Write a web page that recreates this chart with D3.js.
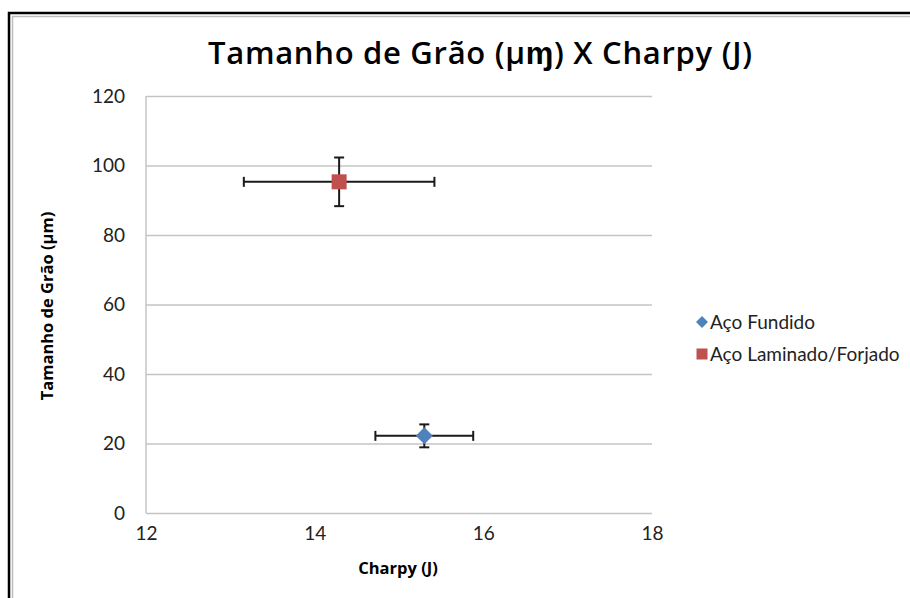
<!DOCTYPE html>
<html>
<head>
<meta charset="utf-8">
<script src="https://cdn.jsdelivr.net/npm/d3@7"></script>
<style>
  html, body { margin: 0; padding: 0; background: #fff; }
  svg { display: block; }
</style>
</head>
<body>
<svg id="chart" width="910" height="598"></svg>
<script>
// Series: Charpy energy (J) vs grain size (µm), with error bars on both axes
const seriesNames = ["Aço Fundido", "Aço Laminado/Forjado"];
const seriesColors = ["#4F81BD", "#C0504D"];
const seriesShapes = ["diamond", "square"];
const charpyValues = [15.3, 14.29];
const charpyErrors = [0.58, 1.13];
const grainValues = [22.2, 95.3];
const grainErrors = [3.3, 7.0];
const xTicks = [12, 14, 16, 18];
const yTicks = [0, 20, 40, 60, 80, 100, 120];

const svg = d3.select("#chart");
const font = "Lato, 'Open Sans', sans-serif";

// Outer frame (double line)
svg.append("rect").attr("x", 9).attr("y", 13).attr("width", 1000).attr("height", 1000)
  .attr("fill", "none").attr("stroke", "#000").attr("stroke-width", 2.5);
svg.append("rect").attr("x", 12.5).attr("y", 16.5).attr("width", 1000).attr("height", 1000)
  .attr("fill", "none").attr("stroke", "#bdbdbd").attr("stroke-width", 1.5);

const x = d3.scaleLinear().domain([12, 18]).range([146, 652]);
const y = d3.scaleLinear().domain([0, 120]).range([513, 96]);

// Horizontal gridlines
svg.append("g").attr("transform", `translate(${x(12)},0)`)
  .call(d3.axisLeft(y).tickValues(yTicks).tickSize(-(x(18) - x(12))).tickFormat(""))
  .call(g => g.select(".domain").remove())
  .call(g => g.selectAll("line").attr("stroke", "#c4c4c4").attr("stroke-width", 1.5));

// Left axis line
svg.append("line").attr("x1", x(12)).attr("x2", x(12)).attr("y1", y(120)).attr("y2", y(0))
  .attr("stroke", "#c4c4c4").attr("stroke-width", 1.5);

// Y tick labels
svg.append("g").attr("transform", `translate(${x(12)},0)`)
  .call(d3.axisLeft(y).tickValues(yTicks).tickSize(0).tickPadding(21).tickFormat(d3.format("d")))
  .call(g => g.select(".domain").remove())
  .call(g => g.selectAll("text").attr("font-family", font).attr("font-size", 19).attr("fill", "#222"));

// X tick labels
svg.append("g").attr("transform", `translate(0,${y(0)})`)
  .call(d3.axisBottom(x).tickValues(xTicks).tickSize(0).tickPadding(14).tickFormat(d3.format("d")))
  .call(g => g.select(".domain").remove())
  .call(g => g.selectAll("text").attr("font-family", font).attr("font-size", 19).attr("fill", "#222"));

// Title
svg.append("text").attr("x", 480).attr("y", 64).attr("text-anchor", "middle")
  .attr("font-family", "'Open Sans', sans-serif").attr("font-weight", 600).attr("font-size", 31)
  .attr("textLength", 544).attr("lengthAdjust", "spacing")
  .attr("fill", "#000").text("Tamanho de Grão (µɱ) X Charpy (J)");

// Axis titles
svg.append("text").attr("x", 398).attr("y", 574).attr("text-anchor", "middle")
  .attr("font-family", "'Open Sans', sans-serif").attr("font-weight", "bold").attr("font-size", 16.5)
  .attr("fill", "#000").text("Charpy (J)");
svg.append("text").attr("transform", "translate(53,306) rotate(-90)").attr("text-anchor", "middle")
  .attr("font-family", "'Open Sans', sans-serif").attr("font-weight", "bold").attr("font-size", 16.5)
  .attr("fill", "#000").text("Tamanho de Grão (µm)");

const data = seriesNames.map((name, i) => ({
  name, color: seriesColors[i], shape: seriesShapes[i],
  cx: charpyValues[i], ex: charpyErrors[i], cy: grainValues[i], ey: grainErrors[i]
}));

// Error bars
const err = svg.append("g").attr("stroke", "#1a1a1a").attr("stroke-width", 2).attr("fill", "none");
data.forEach(d => {
  const capX = 5, capY = 5;
  err.append("line").attr("x1", x(d.cx - d.ex)).attr("x2", x(d.cx + d.ex)).attr("y1", y(d.cy)).attr("y2", y(d.cy));
  err.append("line").attr("x1", x(d.cx - d.ex)).attr("x2", x(d.cx - d.ex)).attr("y1", y(d.cy) - capY).attr("y2", y(d.cy) + capY);
  err.append("line").attr("x1", x(d.cx + d.ex)).attr("x2", x(d.cx + d.ex)).attr("y1", y(d.cy) - capY).attr("y2", y(d.cy) + capY);
  err.append("line").attr("x1", x(d.cx)).attr("x2", x(d.cx)).attr("y1", y(d.cy - d.ey)).attr("y2", y(d.cy + d.ey));
  err.append("line").attr("x1", x(d.cx) - capX).attr("x2", x(d.cx) + capX).attr("y1", y(d.cy - d.ey)).attr("y2", y(d.cy - d.ey));
  err.append("line").attr("x1", x(d.cx) - capX).attr("x2", x(d.cx) + capX).attr("y1", y(d.cy + d.ey)).attr("y2", y(d.cy + d.ey));
});

// Markers
function marker(sel, shape, cx, cy, size, color) {
  if (shape === "square") {
    sel.append("rect").attr("x", cx - size / 2).attr("y", cy - size / 2)
      .attr("width", size).attr("height", size).attr("fill", color);
  } else {
    const r = size / 2;
    sel.append("path").attr("d", `M${cx},${cy - r}L${cx + r},${cy}L${cx},${cy + r}L${cx - r},${cy}Z`)
      .attr("fill", color);
  }
}
data.forEach(d => {
  marker(svg, d.shape, x(d.cx), y(d.cy), d.shape === "square" ? 15 : 17, d.color);
});

// Legend
const legend = svg.append("g");
data.forEach((d, i) => {
  const ly = 322 + i * 32;
  marker(legend, d.shape, 702, ly, d.shape === "square" ? 11 : 12, d.color);
  legend.append("text").attr("x", 710).attr("y", ly + 7)
    .attr("font-family", font).attr("font-size", 19).attr("fill", "#222").text(d.name);
});
</script>
</body>
</html>
